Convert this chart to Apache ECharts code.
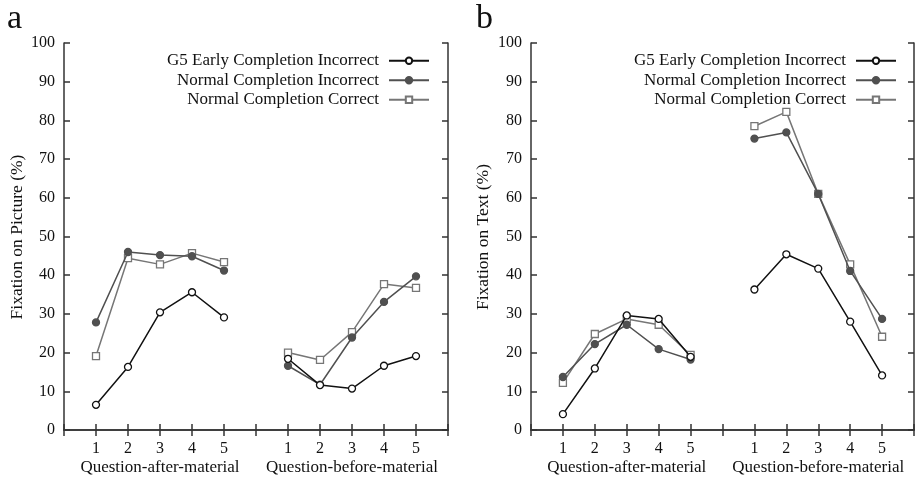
<!DOCTYPE html>
<html><head><meta charset="utf-8">
<script src="https://cdn.jsdelivr.net/npm/echarts@6/dist/echarts.min.js"></script>
<style>html,body{margin:0;padding:0;background:#fff}#c{width:917px;height:477px}</style>
</head><body><div id="c"></div>
<script>
// Categories / tick labels (positions 0..12, gap at 0, 6 and 12)
const xTickLabels = ['', '1', '2', '3', '4', '5', '', '1', '2', '3', '4', '5', ''];
const groupLabels = ['Question-after-material', 'Question-before-material'];
const seriesNames = ['G5 Early Completion Incorrect', 'Normal Completion Incorrect', 'Normal Completion Correct'];
const yTitles = ['Fixation on Picture (%)', 'Fixation on Text (%)'];
const panelLetters = ['a', 'b'];

// Panel a: Fixation on Picture
const picG5After = [6.5, 16.3, 30.4, 35.6, 29.1];
const picG5Before = [18.4, 11.6, 10.7, 16.6, 19.1];
const picNIAfter = [27.8, 46.0, 45.2, 44.9, 41.2];
const picNIBefore = [16.6, 11.7, 23.9, 33.1, 39.7];
const picNCAfter = [19.1, 44.4, 42.8, 45.7, 43.4];
const picNCBefore = [20.0, 18.1, 25.3, 37.7, 36.7];

// Panel b: Fixation on Text
const txtG5After = [4.1, 15.9, 29.6, 28.7, 18.9];
const txtG5Before = [36.3, 45.4, 41.7, 28.0, 14.1];
const txtNIAfter = [13.7, 22.2, 27.2, 20.9, 18.2];
const txtNIBefore = [75.3, 76.9, 61.0, 41.1, 28.7];
const txtNCAfter = [12.2, 24.8, 28.7, 27.2, 19.4];
const txtNCBefore = [78.5, 82.2, 61.0, 42.8, 24.1];

const FONT = 'Liberation Serif';
const AX = '#333';
const colors = ['#111111', '#505050', '#767676'];
const symbols = ['circle', 'circle', 'rect'];
const fills = ['#ffffff', '#505050', '#ffffff'];

function join(a, b) { return [null].concat(a, [null], b, [null]); }

const panels = [
  [join(picG5After, picG5Before), join(picNIAfter, picNIBefore), join(picNCAfter, picNCBefore)],
  [join(txtG5After, txtG5Before), join(txtNIAfter, txtNIBefore), join(txtNCAfter, txtNCBefore)]
];

const grids = [
  { left: 64, top: 43, width: 384, height: 387 },
  { left: 531, top: 43, width: 384, height: 387 }
];

const xAxis = [], yAxis = [], series = [], legend = [], graphic = [];
grids.forEach((g, p) => {
  const axisLine = { show: true, lineStyle: { color: AX, width: 1.5 } };
  const axisTick = { show: true, inside: true, length: 6, lineStyle: { color: AX, width: 1.5 } };
  xAxis.push({
    gridIndex: p, type: 'category', data: xTickLabels, boundaryGap: false, position: 'bottom',
    axisLine, axisTick: Object.assign({ alignWithLabel: true, interval: 0 }, axisTick),
    splitLine: { show: false },
    axisLabel: {
      interval: 0, margin: 9, color: '#111', fontFamily: FONT, fontSize: 16, lineHeight: 19,
      formatter: (v, i) => i === 3 ? v + '\n{g|' + groupLabels[0] + '}' : (i === 9 ? v + '\n{g|' + groupLabels[1] + '}' : v),
      rich: { g: { fontFamily: FONT, fontSize: 17, color: '#111', lineHeight: 19 } }
    }
  });
  xAxis.push({
    gridIndex: p, type: 'category', data: xTickLabels, boundaryGap: false, position: 'top',
    axisLine, axisTick: Object.assign({ interval: 0 }, axisTick), axisLabel: { show: false }, splitLine: { show: false }
  });
  yAxis.push({
    gridIndex: p, type: 'value', min: 0, max: 100, interval: 10, position: 'left',
    axisLine, axisTick, splitLine: { show: false },
    axisLabel: { margin: 9, color: '#111', fontFamily: FONT, fontSize: 16 }
  });
  yAxis.push({
    gridIndex: p, type: 'value', min: 0, max: 100, interval: 10, position: 'right',
    axisLine, axisTick, splitLine: { show: false }, axisLabel: { show: false }
  });
  panels[p].forEach((d, s) => {
    series.push({
      name: seriesNames[s], type: 'line', xAxisIndex: p * 2, yAxisIndex: p * 2, data: d,
      connectNulls: false, symbol: symbols[s], symbolSize: 7, showSymbol: true,
      lineStyle: { color: colors[s], width: 1.5 },
      itemStyle: { color: fills[s], borderColor: colors[s], borderWidth: 1.3 },
      z: 10 - s, animation: false
    });
  });
  graphic.push({
    type: 'text', left: p === 0 ? 7 : 476, top: 2,
    style: { text: panelLetters[p], font: '34px "' + FONT + '"', fill: '#111' }
  });
  graphic.push({
    type: 'text', x: p === 0 ? 17 : 483, y: 237, rotation: Math.PI / 2,
    style: { text: yTitles[p], font: '17.5px "' + FONT + '"', fill: '#111', align: 'center', verticalAlign: 'middle' }
  });
});

const legendRights = [917 - 430, 917 - 897];
legendRights.forEach(r => {
  legend.push({
    data: seriesNames.map(n => ({ name: n })), orient: 'vertical', align: 'right',
    right: r, top: 52, itemWidth: 40, itemHeight: 8, itemGap: 2, padding: 0,
    textStyle: { fontFamily: FONT, fontSize: 17, color: '#111', padding: [0, 5, 0, 0], lineHeight: 17.5 },
    selectedMode: false
  });
});

const chart = echarts.init(document.getElementById('c'), null, { renderer: 'canvas' });
chart.setOption({
  animation: false, backgroundColor: '#fff',
  grid: grids, xAxis, yAxis, series, legend, graphic
});
</script></body></html>
